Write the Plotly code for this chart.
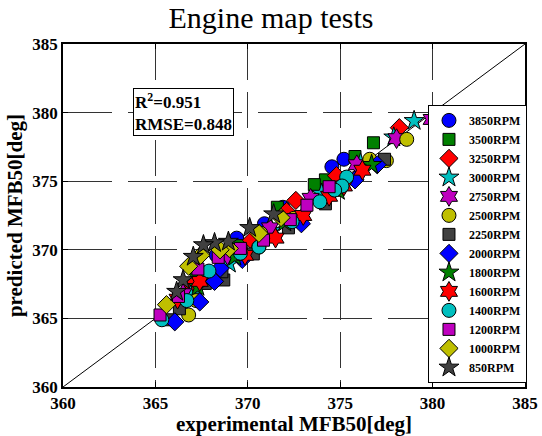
import plotly.graph_objects as go

axis_range = [360, 385]
tick_vals = [360, 365, 370, 375, 380, 385]

series_names = ["3850RPM", "3500RPM", "3250RPM", "3000RPM", "2750RPM", "2500RPM", "2250RPM",
                "2000RPM", "1800RPM", "1600RPM", "1400RPM", "1200RPM", "1000RPM", "850RPM"]

x_3850 = [375.2, 374.55, 371.9, 370.9, 369.4, 368.3, 367.3]
y_3850 = [376.6, 376.05, 373.1, 371.9, 370.85, 369.6, 367.6]

x_3500 = [376.8, 375.8, 374.2, 373.6, 371.6, 369.5, 367.2]
y_3500 = [377.8, 376.8, 375.1, 374.75, 373.1, 370.3, 367.95]

x_3250 = [378.2, 374.8, 372.6, 372.1, 370.2, 368.6, 367.0]
y_3250 = [378.9, 375.4, 373.6, 372.8, 370.7, 369.2, 367.4]

x_3000 = [379.0, 377.9, 376.1, 374.0, 371.3, 369.0, 366.9]
y_3000 = [379.4, 378.2, 376.3, 374.1, 371.4, 369.0, 366.7]

x_2750 = [379.95, 378.05, 375.9, 373.4, 371.2, 368.9, 366.5]
y_2750 = [379.5, 378.1, 376.2, 373.75, 371.6, 369.6, 366.8]

x_2500 = [378.6, 377.5, 376.6, 374.95, 372.5, 370.7, 370.6, 367.2, 366.8]
y_2500 = [378.05, 376.5, 376.6, 374.4, 372.3, 371.2, 370.2, 366.3, 365.25]

x_2250 = [377.4, 374.2, 372.2, 370.3, 368.7, 368.6, 367.7, 366.3, 365.8]
y_2250 = [376.6, 373.35, 371.6, 369.7, 367.8, 368.4, 367.55, 365.7, 364.9]

x_2000 = [377.0, 375.8, 372.9, 369.7, 368.5, 368.2, 367.4, 366.05]
y_2000 = [376.2, 375.1, 371.9, 369.3, 368.65, 367.7, 366.2, 364.75]

x_1800 = [376.7, 374.9, 372.0, 369.3, 367.3]
y_1800 = [376.2, 374.3, 372.0, 369.5, 367.3]

x_1600 = [376.2, 375.2, 374.4, 373.0, 371.5, 369.85, 367.4, 366.2]
y_1600 = [375.8, 374.65, 373.9, 372.5, 370.85, 369.6, 367.7, 366.4]

x_1400 = [375.35, 375.1, 374.7, 373.9, 372.4, 370.6, 369.6, 367.9, 366.7, 365.35]
y_1400 = [375.3, 374.65, 374.35, 373.5, 372.05, 370.2, 369.75, 368.45, 366.3, 364.9]

x_1200 = [374.4, 373.2, 372.3, 370.85, 369.6, 368.4, 367.3, 366.25, 365.25]
y_1200 = [374.6, 373.25, 372.2, 370.7, 370.1, 369.45, 368.6, 366.6, 365.25]

x_1000 = [371.8, 370.6, 369.0, 368.5, 367.45, 366.8, 365.6]
y_1000 = [372.35, 371.2, 370.1, 370.0, 369.6, 368.8, 366.0]

x_850 = [371.4, 370.1, 368.95, 368.2, 367.6, 367.05, 366.5, 366.15]
y_850 = [372.6, 371.6, 370.6, 370.5, 370.35, 369.5, 367.8, 366.95]

xs = [x_3850, x_3500, x_3250, x_3000, x_2750, x_2500, x_2250, x_2000, x_1800, x_1600, x_1400, x_1200, x_1000, x_850]
ys = [y_3850, y_3500, y_3250, y_3000, y_2750, y_2500, y_2250, y_2000, y_1800, y_1600, y_1400, y_1200, y_1000, y_850]

colors = ["#0000FF", "#008000", "#FF0000", "#00BFBF", "#BF00BF", "#BFBF00", "#404040",
          "#0000FF", "#008000", "#FF0000", "#00BFBF", "#BF00BF", "#BFBF00", "#404040"]
symbols = ["circle", "square", "diamond", "star", "hexagram", "circle", "square",
           "diamond", "star", "hexagram", "circle", "square", "diamond", "star"]
sizes = [14, 12, 14, 15, 15, 14, 12, 14, 15, 15, 14, 12, 14, 15]

fig = go.Figure()

fig.add_trace(go.Scatter(x=axis_range, y=axis_range, mode="lines",
                         line=dict(color="black", width=1), showlegend=False, hoverinfo="skip"))

for name, x, y, c, s, sz in zip(series_names, xs, ys, colors, symbols, sizes):
    fig.add_trace(go.Scatter(x=x, y=y, mode="markers", name=name,
                             marker=dict(color=c, symbol=s, size=sz,
                                         line=dict(color="black", width=1))))

axis_common = dict(range=axis_range, tickvals=tick_vals, showline=True, mirror="ticks",
                   linecolor="black", linewidth=1.5, ticks="inside", ticklen=5,
                   tickcolor="black", showgrid=True, gridcolor="#333333", gridwidth=1,
                   zeroline=False, automargin=False,
                   tickfont=dict(family="Liberation Serif", size=17, color="black", weight="bold"))

fig.update_xaxes(**axis_common, griddash="36px,12px",
                 title=dict(text="experimental MFB50[deg]", standoff=0,
                            font=dict(family="Liberation Serif", size=21, color="black", weight="bold")))
fig.update_yaxes(**axis_common, griddash="49px,16px",
                 title=dict(text="predicted MFB50[deg]", standoff=4,
                            font=dict(family="Liberation Serif", size=21, color="black", weight="bold")))

fig.add_annotation(x=363.8, y=381.8, xref="x", yref="y", xanchor="left", yanchor="top",
                   text="R<sup>2</sup>=0.951<br>RMSE=0.848", showarrow=False, align="left",
                   font=dict(family="Liberation Serif", size=17, color="black", weight="bold"),
                   bgcolor="white", bordercolor="black", borderwidth=1, borderpad=1)

fig.update_layout(
    width=542, height=436,
    margin=dict(l=63, r=17, t=44, b=49),
    paper_bgcolor="white", plot_bgcolor="white",
    title=dict(text="Engine map tests", x=0.5, xanchor="center", xref="container",
               y=0.985, yanchor="top",
               font=dict(family="Liberation Serif", size=30, color="black")),
    legend=dict(x=0.79, xanchor="left", y=0.012, yanchor="bottom",
                bgcolor="white", bordercolor="black", borderwidth=1,
                font=dict(family="Liberation Serif", size=12, color="black", weight="bold"),
                itemsizing="trace"),
    showlegend=True,
)

fig.write_html("out.html", config={"displayModeBar": False},
               post_script="document.body.style.margin='0';")
